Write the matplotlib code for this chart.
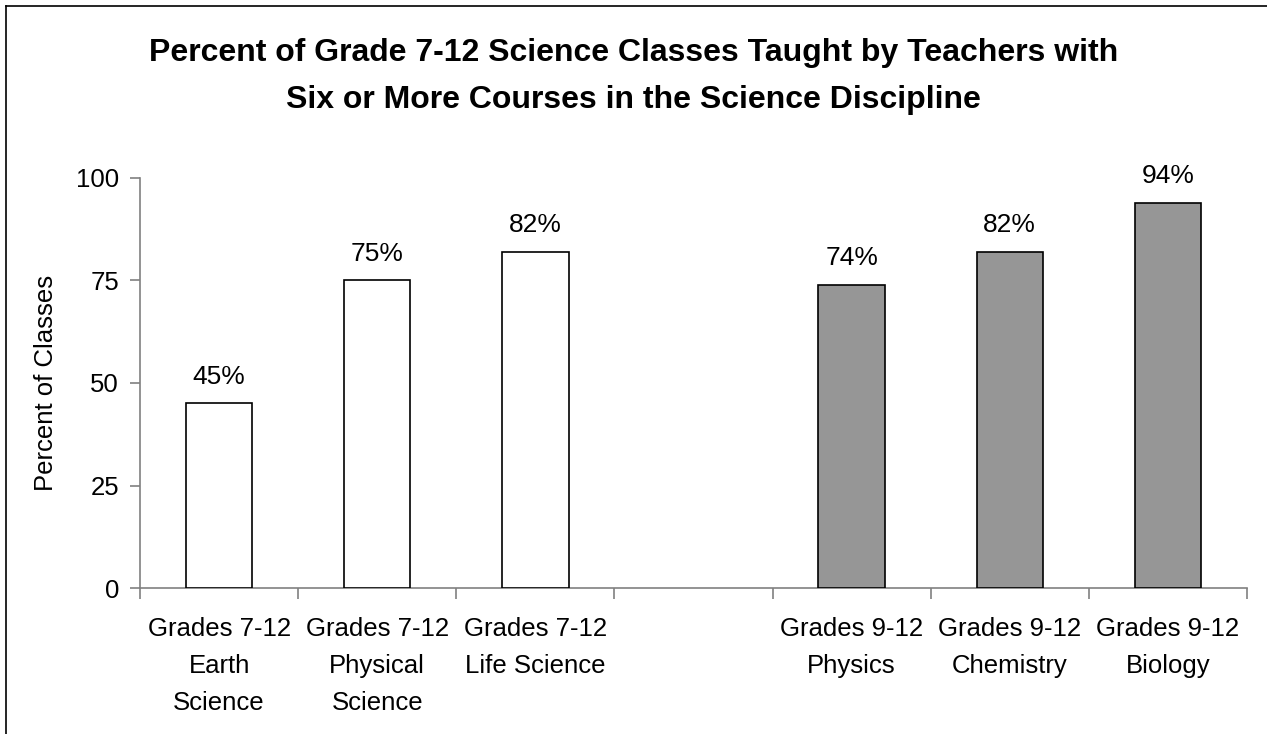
"""Percent of grade 7-12 science classes taught by well-prepared teachers."""

import matplotlib
matplotlib.use("Agg")
import matplotlib.pyplot as plt
from matplotlib.lines import Line2D

CATEGORIES = [
    "Grades 7-12\nEarth\nScience",
    "Grades 7-12\nPhysical\nScience",
    "Grades 7-12\nLife Science",
    "",
    "Grades 9-12\nPhysics",
    "Grades 9-12\nChemistry",
    "Grades 9-12\nBiology",
]
VALUES = [45, 75, 82, None, 74, 82, 94]
FILLS = ["white", "white", "white", None, "#969696", "#969696", "#969696"]
Y_TICKS = [0, 25, 50, 75, 100]

TITLE = ("Percent of Grade 7-12 Science Classes Taught by Teachers with\n"
         "Six or More Courses in the Science Discipline")

plt.rcParams.update({
    "font.family": ["Liberation Sans", "DejaVu Sans"],
    "font.size": 18.5,
})

W, H = 1267, 734
fig = plt.figure(figsize=(W / 100, H / 100), dpi=100)
ax = fig.add_axes([140 / W, 1 - 588 / H, (1247 - 140) / W, (588 - 178) / H])

for i, (v, c) in enumerate(zip(VALUES, FILLS)):
    if v is None:
        continue
    bars = ax.bar(i, v, width=0.42, color=c, edgecolor="black", linewidth=1.2, zorder=3)
    ax.bar_label(bars, labels=[f"{v}%"], padding=10.5, fontsize=19)

ax.set_xlim(-0.5, len(CATEGORIES) - 0.5)
ax.set_ylim(0, 100)
ax.set_yticks(Y_TICKS)

# category boundaries get tick marks, names sit at the centres
ax.set_xticks([i - 0.5 for i in range(len(CATEGORIES) + 1)])
ax.set_xticklabels([])
ax.set_xticks(range(len(CATEGORIES)), minor=True)
ax.set_xticklabels(CATEGORIES, minor=True, linespacing=1.68)
ax.tick_params(axis="x", which="minor", length=0, pad=21, labelsize=18.5)
ax.tick_params(axis="x", which="major", length=8, width=1.2, color="#808080")
ax.tick_params(axis="y", length=7, width=1.2, color="#808080", pad=8, labelsize=18.5)

for side in ("top", "right"):
    ax.spines[side].set_visible(False)
for side in ("left", "bottom"):
    ax.spines[side].set_color("#808080")
    ax.spines[side].set_linewidth(1.2)

ax.set_ylabel("Percent of Classes", fontsize=18.5, labelpad=13)
fig.text(0.5, 1 - 76.5 / H, TITLE, ha="center", va="center",
         fontsize=23, fontweight="bold", linespacing=1.78)

# frame of the original chart area (only left and top survive the crop)
fig.add_artist(Line2D([5.5 / W, 5.5 / W], [0, 1 - 5.5 / H], color="black", linewidth=1.2,
                      transform=fig.transFigure))
fig.add_artist(Line2D([5.5 / W, 1], [1 - 5.5 / H, 1 - 5.5 / H], color="black", linewidth=1.2,
                      transform=fig.transFigure))

fig.savefig("out.png", dpi=100)
